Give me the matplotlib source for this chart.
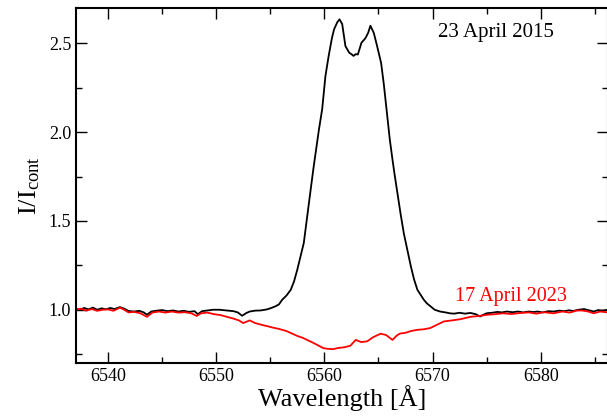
import matplotlib
matplotlib.use("Agg")
import matplotlib.pyplot as plt
from matplotlib.ticker import MultipleLocator

plt.rcParams['font.family'] = ['Liberation Serif', 'DejaVu Serif']
plt.rcParams['mathtext.fontset'] = 'custom'
plt.rcParams['mathtext.rm'] = 'Liberation Serif'
plt.rcParams['mathtext.it'] = 'Liberation Serif:italic'

# 23 April 2015 profile (black)
wl_2015 = [6537.0, 6537.4, 6537.8, 6538.2, 6538.6, 6539.0, 6539.4, 6539.8, 6540.2, 6540.6,
           6541.1, 6541.5, 6541.9, 6542.4, 6542.9, 6543.3, 6543.6, 6544.0, 6544.5, 6545.0,
           6545.5, 6546.0, 6546.5, 6547.0, 6547.5, 6548.0, 6548.3, 6548.7, 6549.2, 6549.7,
           6550.3, 6551.0, 6551.6, 6552.0, 6552.4, 6552.8, 6553.1, 6553.6, 6554.1, 6554.7,
           6555.1, 6555.5, 6555.8, 6556.1, 6556.5, 6556.9, 6557.2, 6557.5, 6557.8, 6558.1,
           6558.4, 6558.7, 6559.0, 6559.3, 6559.5, 6559.8, 6560.1, 6560.4, 6560.7, 6560.9,
           6561.2, 6561.4, 6561.65, 6561.95, 6562.3, 6562.5, 6562.7, 6562.9, 6563.1, 6563.43,
           6563.8, 6564.05, 6564.26, 6564.57, 6564.88, 6565.25, 6565.5, 6565.8, 6566.05, 6566.3,
           6566.5, 6566.75, 6567.05, 6567.35, 6567.7, 6568.0, 6568.3, 6568.6, 6568.9, 6569.2,
           6569.5, 6569.8, 6570.2, 6570.7, 6571.2, 6571.6, 6572.0, 6572.5, 6573.0, 6573.5,
           6574.0, 6574.4, 6574.7, 6575.0, 6575.5, 6576.0, 6576.4, 6576.9, 6577.4, 6577.9,
           6578.4, 6578.9, 6579.3, 6579.7, 6580.2, 6580.7, 6581.2, 6581.7, 6582.2, 6582.6,
           6583.0, 6583.5, 6584.0, 6584.4, 6584.9, 6585.3, 6585.7, 6586.2]
I_2015 = [1.005, 1.000, 1.010, 1.002, 1.012, 1.000, 1.008, 1.002, 1.010, 1.004,
          1.015, 1.006, 0.993, 0.990, 0.994, 0.985, 0.972, 0.990, 0.995, 0.998,
          0.992, 0.996, 0.990, 0.994, 0.988, 0.992, 0.975, 0.992, 0.996, 1.000,
          1.000, 0.996, 0.992, 0.985, 0.966, 0.982, 0.990, 0.995, 0.996, 1.002,
          1.010, 1.020, 1.030, 1.056, 1.080, 1.113, 1.160, 1.226, 1.300, 1.376,
          1.520, 1.660, 1.800, 1.930, 2.015, 2.130, 2.316, 2.430, 2.530, 2.580,
          2.620, 2.636, 2.610, 2.485, 2.448, 2.440, 2.430, 2.440, 2.438, 2.504,
          2.530, 2.560, 2.600, 2.560, 2.485, 2.390, 2.270, 2.100, 1.960, 1.846,
          1.760, 1.660, 1.540, 1.430, 1.330, 1.244, 1.170, 1.113, 1.085, 1.056,
          1.035, 1.020, 1.000, 0.990, 0.985, 0.980, 0.978, 0.983, 0.978, 0.982,
          0.975, 0.962, 0.972, 0.980, 0.983, 0.988, 0.985, 0.990, 0.986, 0.990,
          0.985, 0.990, 0.987, 0.990, 0.985, 0.992, 0.990, 0.995, 0.992, 0.997,
          0.993, 1.000, 1.004, 0.998, 0.990, 0.998, 0.995, 1.000]

# 17 April 2023 profile (red)
wl_2023 = [6537.0, 6537.5, 6538.0, 6538.5, 6539.0, 6539.5, 6540.0, 6540.5, 6541.1, 6541.5,
           6541.9, 6542.4, 6543.0, 6543.6, 6544.1, 6544.7, 6545.3, 6545.9, 6546.5, 6547.1,
           6547.7, 6548.2, 6548.6, 6549.2, 6549.8, 6550.4, 6551.0, 6551.6, 6552.1, 6552.5,
           6553.1, 6553.6, 6554.2, 6554.7, 6555.2, 6555.8, 6556.5, 6557.0, 6557.6, 6558.0,
           6558.4, 6558.9, 6559.4, 6559.9, 6560.3, 6560.8, 6561.3, 6561.8, 6562.4, 6562.9,
           6563.4, 6563.96, 6564.5, 6565.2, 6565.7, 6566.3, 6566.7, 6567.0, 6567.5, 6568.0,
           6568.6, 6569.2, 6569.8, 6570.4, 6571.05, 6571.8, 6572.6, 6573.5, 6574.3, 6575.1,
           6575.8, 6576.5, 6577.3, 6578.2, 6578.9, 6579.6, 6580.3, 6581.2, 6582.0, 6582.7,
           6583.3, 6583.8, 6584.4, 6584.9, 6585.5, 6586.2]
I_2023 = [1.000, 1.006, 0.995, 1.004, 0.994, 1.000, 1.002, 0.994, 1.012, 1.000,
          0.985, 0.988, 0.980, 0.960, 0.984, 0.990, 0.984, 0.990, 0.984, 0.986,
          0.980, 0.965, 0.980, 0.984, 0.975, 0.970, 0.960, 0.950, 0.940, 0.925,
          0.940, 0.925, 0.915, 0.908, 0.900, 0.892, 0.880, 0.866, 0.850, 0.842,
          0.830, 0.816, 0.800, 0.784, 0.780, 0.778, 0.785, 0.788, 0.797, 0.830,
          0.818, 0.822, 0.845, 0.865, 0.858, 0.830, 0.855, 0.866, 0.870, 0.880,
          0.887, 0.890, 0.897, 0.915, 0.934, 0.940, 0.947, 0.960, 0.965, 0.972,
          0.975, 0.980, 0.976, 0.982, 0.985, 0.978, 0.986, 0.980, 0.990, 0.984,
          0.995, 0.996, 0.990, 0.980, 0.990, 0.985]

fig = plt.figure(figsize=(6.07, 4.16), dpi=100)
ax = fig.add_axes([0.1252, 0.1274, 0.8760, 0.8534])

ax.plot(wl_2015, I_2015, color='black', linewidth=1.3)
ax.plot(wl_2023, I_2023, color='red', linewidth=1.3)

ax.set_xlim(6537.04, 6586.2)
ax.set_ylim(0.70, 2.70)
ax.xaxis.set_major_locator(MultipleLocator(10))
ax.xaxis.set_minor_locator(MultipleLocator(5))
ax.yaxis.set_major_locator(MultipleLocator(0.5))
ax.yaxis.set_minor_locator(MultipleLocator(0.25))
ax.yaxis.set_major_formatter(matplotlib.ticker.FormatStrFormatter('%.1f'))
ax.tick_params(which='both', direction='in', top=True, right=True, labelsize=13, pad=3.5)
ax.tick_params(which='major', length=8, width=1.0)
ax.tick_params(which='minor', length=4, width=1.0)
for s in ax.spines.values():
    s.set_linewidth(1.5)

ax.set_xlabel('Wavelength [Å]', fontsize=19, labelpad=0)
ax.set_ylabel(r'$\mathrm{I/I_{cont}}$', fontsize=19, labelpad=5)

ax.text(6570.5, 2.56, '23 April 2015', fontsize=15, color='black', va='center', ha='left')
ax.text(6572.1, 1.073, '17 April 2023', fontsize=14.5, color='red', va='center', ha='left')

fig.savefig('out.png', dpi=100)
